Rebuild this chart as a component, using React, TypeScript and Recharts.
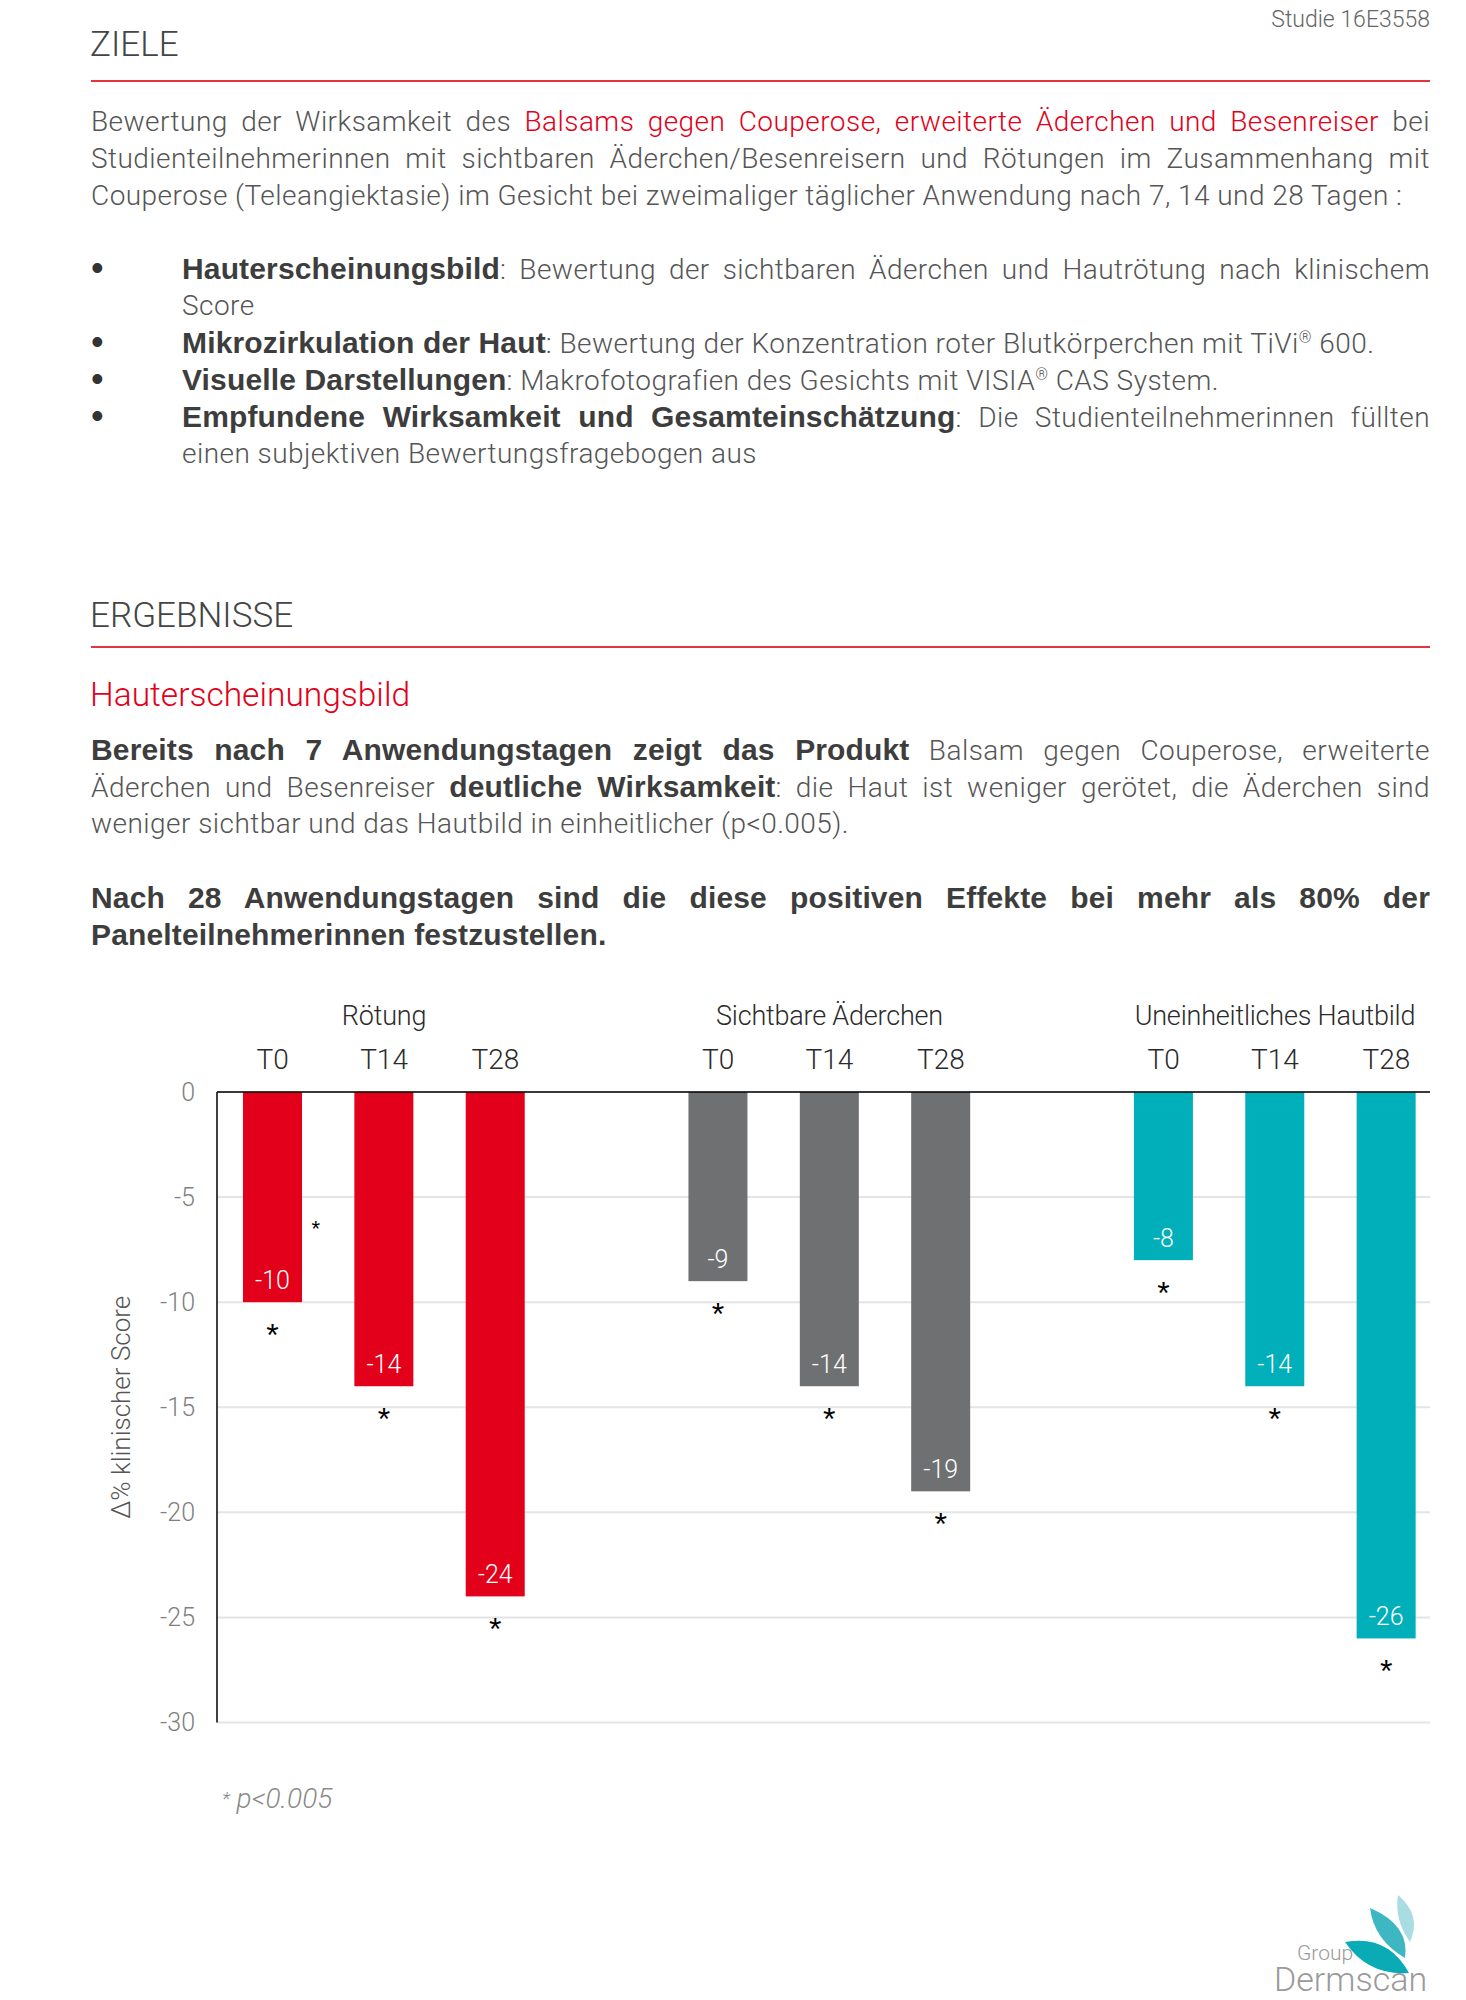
import React from 'react';
import { BarChart, Bar, XAxis, YAxis, CartesianGrid, ReferenceDot, ReferenceLine, Label } from 'recharts';

// categories (gap slots separate the three groups)
const categoryIds = ['R-T0', 'R-T14', 'R-T28', 'gap-1', 'S-T0', 'S-T14', 'S-T28', 'gap-2', 'U-T0', 'U-T14', 'U-T28'];
const tickLabels = ['T0', 'T14', 'T28', '', 'T0', 'T14', 'T28', '', 'T0', 'T14', 'T28'];
const groupOfCategory = [0, 0, 0, null, 1, 1, 1, null, 2, 2, 2];
const values = [-10, -14, -24, null, -9, -14, -19, null, -8, -14, -26];
const significant = [true, true, true, false, true, true, true, false, true, true, true];

const groupNames = ['Rötung', 'Sichtbare Äderchen', 'Uneinheitliches Hautbild'];
const groupLabelAt = [1, 5, 9];
const yTicks = [0, -5, -10, -15, -20, -25, -30];
const strayStar = { id: 'R-T0', value: -6.3 };

const GROUP_COLORS = ['#e2001a', '#6f7072', '#00afb9'];
const FONT = "Roboto, 'Liberation Sans', Arial, sans-serif";
const BOLD_FONT = "'Liberation Sans', Arial, sans-serif";
const TEXT_GRAY = '#555555';
const BOLD_GRAY = '#3d3d3d';
const LINE_TRIM = 12; // grid / zero line stop short of the last band

const data = categoryIds.map((id, i) => ({
  id,
  label: tickLabels[i],
  group: groupOfCategory[i],
  value: values[i],
  sig: significant[i],
}));

const CategoryTick = (props: any) => {
  const { x, y, payload } = props;
  const i = categoryIds.indexOf(payload.value);
  const g = groupLabelAt.indexOf(i);
  return (
    <g>
      <text x={x} y={y - 33} textAnchor="middle" dominantBaseline="central"
        fontFamily={FONT} fontWeight={300} fontSize={28} fill="#2b2b2b">
        {tickLabels[i]}
      </text>
      {g >= 0 && (
        <text x={x} y={y - 76} textAnchor="middle" dominantBaseline="central"
          fontFamily={FONT} fontWeight={300} fontSize={27} letterSpacing={-0.2} fill="#2b2b2b">
          {groupNames[g]}
        </text>
      )}
    </g>
  );
};

const BarShape = (props: any) => {
  const { x, y, width, height, payload } = props;
  if (!payload || payload.value == null) return null;
  const top = Math.min(y, y + height);
  const bottom = Math.max(y, y + height);
  const cx = x + width / 2;
  return (
    <g>
      <rect x={x} y={top} width={width} height={bottom - top} fill={GROUP_COLORS[payload.group]} />
      <text x={cx} y={bottom - 22} textAnchor="middle" dominantBaseline="central"
        fontFamily={FONT} fontWeight={300} fontSize={25} fill="#ffffff">
        {payload.value}
      </text>
      {payload.sig && (
        <text x={cx} y={bottom + 26 + 18} textAnchor="middle"
          fontFamily={BOLD_FONT} fontSize={32} fill="#000">
          *
        </text>
      )}
    </g>
  );
};

const StarShape = (props: any) => (
  <text x={props.cx + 43} y={props.cy + 12} textAnchor="middle"
    fontFamily={BOLD_FONT} fontSize={22} fill="#000">
    *
  </text>
);

const GridLine = (props: any) => {
  const { x1, x2, y1, y2 } = props;
  return <line x1={x1} x2={x2 - LINE_TRIM} y1={y1} y2={y2} stroke="#e4e4e4" strokeWidth={2} />;
};

const ZeroLine = (props: any) => {
  const { x1, x2, y1, y2 } = props;
  return <line x1={x1} x2={x2 - LINE_TRIM} y1={y1} y2={y2} stroke="#000" strokeWidth={1.5} />;
};

type Seg = { t: string; b?: boolean; red?: boolean; sup?: boolean };

function TextLine({ top, left = 91, width = 1339, segs, justify = false }: {
  top: number; left?: number; width?: number; segs: Seg[]; justify?: boolean;
}) {
  return (
    <div style={{
      position: 'absolute', top: top - 18.5, left, width, height: 37, lineHeight: '37px',
      fontSize: 28, fontFamily: FONT, fontWeight: 300, color: TEXT_GRAY, letterSpacing: 0.45,
      textAlign: justify ? 'justify' : 'left', textAlignLast: justify ? 'justify' : 'left',
    } as React.CSSProperties}>
      {segs.map((s, i) => (
        <span key={i} style={{
          fontFamily: s.b ? BOLD_FONT : undefined,
          fontWeight: s.b ? 700 : 300,
          fontSize: s.sup ? 16 : s.b ? 30 : undefined,
          letterSpacing: s.b ? 0.15 : undefined,
          color: s.red ? '#e2001a' : s.b ? BOLD_GRAY : TEXT_GRAY,
          verticalAlign: s.sup ? 'super' : undefined,
          lineHeight: s.sup ? '0' : undefined,
        }}>{s.t}</span>
      ))}
    </div>
  );
}

function Bullet({ top }: { top: number }) {
  return (
    <div style={{ position: 'absolute', top: top - 20, left: 91, lineHeight: '40px', fontSize: 36, color: '#333', fontFamily: BOLD_FONT }}>•</div>
  );
}

function Heading({ top, text }: { top: number; text: string }) {
  return (
    <div style={{ position: 'absolute', top: top - 20, left: 90, lineHeight: '40px', fontSize: 35, fontFamily: FONT, fontWeight: 300, color: '#444' }}>{text}</div>
  );
}

function Rule({ top }: { top: number }) {
  return <div style={{ position: 'absolute', top: top - 1, left: 91, width: 1339, height: 2, background: '#e5333f' }} />;
}

export default function App() {
  return (
    <div style={{ position: 'absolute', top: 0, left: 0, width: 1466, height: 2000, background: '#fff', overflow: 'hidden', fontFamily: FONT }}>
      <div style={{ position: 'absolute', top: 6, right: 36, fontSize: 23, fontFamily: FONT, fontWeight: 300, color: '#666' }}>Studie 16E3558</div>

      <Heading top={45} text="ZIELE" />
      <Rule top={81} />

      <TextLine top={121} justify segs={[
        { t: 'Bewertung der Wirksamkeit des ' },
        { t: 'Balsams gegen Couperose, erweiterte Äderchen und Besenreiser', red: true },
        { t: ' bei' },
      ]} />
      <TextLine top={158} justify segs={[{ t: 'Studienteilnehmerinnen mit sichtbaren Äderchen/Besenreisern und Rötungen im Zusammenhang mit' }]} />
      <TextLine top={195} segs={[{ t: 'Couperose (Teleangiektasie) im Gesicht bei zweimaliger täglicher Anwendung nach 7, 14 und 28 Tagen :' }]} />

      <Bullet top={268} />
      <TextLine top={268} left={182} width={1248} justify segs={[
        { t: 'Hauterscheinungsbild', b: true },
        { t: ':  Bewertung der sichtbaren Äderchen und Hautrötung nach klinischem' },
      ]} />
      <TextLine top={305} left={182} width={1248} segs={[{ t: 'Score' }]} />
      <Bullet top={342} />
      <TextLine top={342} left={182} width={1248} segs={[
        { t: 'Mikrozirkulation der Haut', b: true },
        { t: ': Bewertung der Konzentration roter Blutkörperchen mit TiVi' },
        { t: '®', sup: true },
        { t: ' 600.' },
      ]} />
      <Bullet top={379} />
      <TextLine top={379} left={182} width={1248} segs={[
        { t: 'Visuelle Darstellungen', b: true },
        { t: ': Makrofotografien des Gesichts mit VISIA' },
        { t: '®', sup: true },
        { t: ' CAS System.' },
      ]} />
      <Bullet top={416} />
      <TextLine top={416} left={182} width={1248} justify segs={[
        { t: 'Empfundene Wirksamkeit und Gesamteinschätzung', b: true },
        { t: ': Die Studienteilnehmerinnen füllten' },
      ]} />
      <TextLine top={453} left={182} width={1248} segs={[{ t: 'einen subjektiven Bewertungsfragebogen aus' }]} />

      <Heading top={616} text="ERGEBNISSE" />
      <Rule top={647} />

      <div style={{ position: 'absolute', top: 675, left: 90, lineHeight: '40px', fontSize: 33.5, fontFamily: FONT, fontWeight: 300, color: '#e2001a' }}>Hauterscheinungsbild</div>

      <TextLine top={749} justify segs={[
        { t: 'Bereits nach 7 Anwendungstagen zeigt das Produkt', b: true },
        { t: '  Balsam gegen Couperose, erweiterte' },
      ]} />
      <TextLine top={786} justify segs={[
        { t: 'Äderchen und Besenreiser  ' },
        { t: 'deutliche Wirksamkeit', b: true },
        { t: ': die Haut ist weniger gerötet, die Äderchen sind' },
      ]} />
      <TextLine top={823} segs={[{ t: 'weniger sichtbar und das Hautbild in einheitlicher (p<0.005).' }]} />

      <TextLine top={897} justify segs={[{ t: 'Nach 28 Anwendungstagen sind die diese positiven Effekte bei mehr als 80% der', b: true }]} />
      <TextLine top={934} segs={[{ t: 'Panelteilnehmerinnen festzustellen.', b: true }]} />

      <div style={{ position: 'absolute', top: 960, left: 0 }}>
        <BarChart width={1466} height={800} data={data} margin={{ top: 0, right: 24, left: 0, bottom: 37.5 }}>
          <CartesianGrid vertical={false} horizontal={(p: any) => <GridLine key={p.key ?? p.y1} {...p} />} />
          <XAxis
            dataKey="id"
            orientation="top"
            height={132}
            interval={0}
            axisLine={false}
            tickLine={false}
            tickSize={0}
            tickMargin={0}
            tick={<CategoryTick />}
          />
          <YAxis
            type="number"
            domain={[-30, 0]}
            ticks={yTicks}
            interval={0}
            width={217}
            axisLine={{ stroke: '#000', strokeWidth: 1.5 }}
            tickLine={false}
            tickSize={0}
            tickMargin={22}
            tick={{ fontSize: 25, fill: '#7f7f7f', fontFamily: FONT, fontWeight: 300 }}
          >
            <Label value="Δ% klinischer Score" angle={-90} position="center" dx={12}
              style={{ fontSize: 26, fill: TEXT_GRAY, fontFamily: FONT, fontWeight: 300 }} />
          </YAxis>
          <ReferenceLine y={0} shape={<ZeroLine />} />
          <Bar dataKey="value" barSize={59} isAnimationActive={false} shape={<BarShape />} />
          <ReferenceDot x={strayStar.id} y={strayStar.value} r={0} shape={<StarShape />} />
        </BarChart>
      </div>

      <div style={{ position: 'absolute', top: 1780, left: 222, fontSize: 28, lineHeight: '38px', fontFamily: FONT, fontWeight: 300, fontStyle: 'italic', color: '#8a8a8a' }}>
        <span style={{ fontSize: 19, verticalAlign: 'top' }}>*</span> p&lt;0.005
      </div>

      <svg width={1466} height={2000} style={{ position: 'absolute', top: 0, left: 0, pointerEvents: 'none' }}>
        <path d="M1398,1895 Q1422,1915 1410,1942 Q1394,1920 1398,1895 Z" fill="#a9dde3" />
        <path d="M1370,1908 Q1410,1925 1405,1958 Q1374,1940 1370,1908 Z" fill="#3db7c1" />
        <path d="M1345,1942 Q1388,1934 1409,1973 Q1368,1976 1345,1942 Z" fill="#0aabb5" />
        <text x={1297} y={1960} fontFamily={FONT} fontWeight={300} fontSize={21} fill="#9a9a9a">Group</text>
        <text x={1274} y={1991} fontFamily={FONT} fontWeight={300} fontSize={34} fill="#9a9a9a">Dermscan</text>
      </svg>
    </div>
  );
}
